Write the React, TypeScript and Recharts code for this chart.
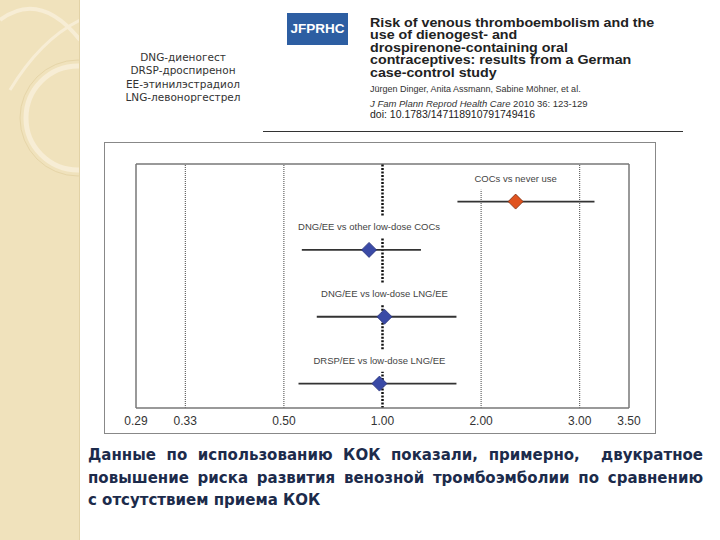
import {
  ComposedChart,
  Scatter,
  ErrorBar,
  XAxis,
  YAxis,
  ReferenceLine,
} from 'recharts';

// forest plot rows (odds ratios with 95% CI)
const comparisons = [
  'COCs vs never use',
  'DNG/EE vs other low-dose COCs',
  'DNG/EE vs low-dose LNG/EE',
  'DRSP/EE vs low-dose LNG/EE',
];
const oddsRatios = [2.35, 0.88, 1.02, 0.97];
const ciLower = [1.76, 0.55, 0.6, 0.54];
const ciUpper = [3.15, 1.39, 1.75, 1.75];
const markerColors = ['#E0531F', '#3A4AA6', '#3A4AA6', '#3A4AA6'];

const tickRatios = [1 / 3.5, 1 / 3, 0.5, 1, 2, 3, 3.5];
const guideRatios = [1 / 3, 0.5, 1, 2, 3];

const abbreviations = [
  'DNG-диеногест',
  'DRSP-дроспиренон',
  'EE-этинилэстрадиол',
  'LNG-левоноргестрел',
];
const titleLines = [
  'Risk of venous thromboembolism and the',
  'use of dienogest- and',
  'drospirenone-containing oral',
  'contraceptives: results from a German',
  'case-control study',
];
const conclusionLines = [
  'Данные по использованию КОК показали, примерно,  двукратное',
  'повышение риска развития венозной тромбоэмболии по сравнению',
  'с отсутствием приема КОК',
];

// layout of the rows on the hidden y axis (0..10)
const Y_MAX = 10;
const rowY = [8.46, 6.48, 3.74, 1.0];
const LABEL_UP = 0.945;
const UNIT_PX = 98.7; // px per x-axis unit
const Y_PX = 24.34; // px per y unit

// ratio scale: 1/3, 1/2, 1, 2, 3 equally spaced
const toAxis = (r: number) => (r >= 1 ? r - 1 : 1 - 1 / r);

const data = comparisons.map((name, i) => {
  const x = toAxis(oddsRatios[i]);
  return {
    name,
    x,
    y: rowY[i],
    err: [x - toAxis(ciLower[i]), toAxis(ciUpper[i]) - x],
    color: markerColors[i],
  };
});

// vertical guide lines, broken where a row label crosses them
function guideSegments(ratio: number) {
  const gx = toAxis(ratio);
  const breaks: [number, number][] = [];
  data.forEach((d) => {
    const half = (d.name.length * 2.2) / UNIT_PX;
    if (Math.abs(gx - d.x) < half) {
      const ly = d.y + LABEL_UP;
      breaks.push([ly - 0.46, ly + 0.46]);
    }
  });
  breaks.sort((a, b) => a[0] - b[0]);
  const segs: [number, number][] = [];
  let start = 0;
  breaks.forEach(([b0, b1]) => {
    if (b0 - start > 0.4) segs.push([start, b0]);
    start = b1;
  });
  if (Y_MAX - start > 0.4) segs.push([start, Y_MAX]);
  return segs.map((s) => ({ x: gx, y0: s[0], y1: s[1], ratio }));
}

const guides = guideRatios.flatMap(guideSegments);

function Diamond(props: any) {
  const { cx, cy, payload } = props;
  const h = 7.5;
  return (
    <g>
      <polygon
        points={`${cx},${cy - h} ${cx + h},${cy} ${cx},${cy + h} ${cx - h},${cy}`}
        fill={payload.color}
        stroke={payload.color === '#E0531F' ? '#7a2d12' : '#27317a'}
        strokeWidth={0.8}
      />
      <text
        x={cx}
        y={cy - LABEL_UP * Y_PX}
        textAnchor="middle"
        dominantBaseline="central"
        fontSize={9.5}
        fontFamily="Liberation Sans, Arial, sans-serif"
        fill="#444"
      >
        {payload.name}
      </text>
    </g>
  );
}

function ForestPlot() {
  return (
    <ComposedChart
      width={552}
      height={292}
      data={data}
      margin={{ top: 22, right: 27, left: 32, bottom: 0 }}
    >
      <XAxis
        type="number"
        dataKey="x"
        domain={[-2.5, 2.5]}
        ticks={tickRatios.map(toAxis)}
        tickFormatter={(v: number) => {
          const i = tickRatios.findIndex((r) => Math.abs(toAxis(r) - v) < 1e-6);
          return i >= 0 ? tickRatios[i].toFixed(2) : '';
        }}
        height={26}
        tickLine={false}
        tickSize={6}
        tickMargin={2}
        axisLine={{ stroke: '#777', strokeWidth: 1.5 }}
        tick={{ fill: '#333', fontSize: 12, fontFamily: 'Liberation Sans, Arial, sans-serif' }}
        allowDataOverflow
      />
      <YAxis type="number" dataKey="y" domain={[0, Y_MAX]} hide allowDataOverflow />

      <ReferenceLine x={-2.5} stroke="#777" strokeWidth={1.5} />
      <ReferenceLine x={2.5} stroke="#777" strokeWidth={1.5} />
      <ReferenceLine y={Y_MAX} stroke="#777" strokeWidth={1.5} />

      {guides.map((g, i) => (
        <ReferenceLine
          key={i}
          segment={[
            { x: g.x, y: g.y0 },
            { x: g.x, y: g.y1 },
          ]}
          stroke={g.ratio === 1 ? '#111' : '#444'}
          strokeWidth={g.ratio === 1 ? 2.5 : 1}
          strokeDasharray={g.ratio === 1 ? '2 1.5' : '1 1'}
        />
      ))}

      <Scatter data={data} dataKey="y" shape={<Diamond />} isAnimationActive={false}>
        <ErrorBar dataKey="err" direction="x" width={0} stroke="#333" strokeWidth={1.8} />
      </Scatter>
    </ComposedChart>
  );
}

export default function App() {
  return (
    <div
      style={{
        position: 'absolute',
        left: 0,
        top: 0,
        width: 720,
        height: 540,
        overflow: 'hidden',
        background: '#fff',
        fontFamily: 'Liberation Sans, Arial, sans-serif',
      }}
    >
      {/* decorative strip */}
      <svg width={80} height={540} style={{ position: 'absolute', left: 0, top: 0 }}>
        <rect x={0} y={0} width={80} height={540} fill="#F0E2BC" />
        <circle cx={78} cy={118} r={52} fill="none" stroke="#F7EDD5" strokeWidth={5} />
        <circle cx={78} cy={118} r={58} fill="none" stroke="#E6D5A8" strokeWidth={1} />
        <path d="M 0 20 Q 40 -10 80 40" fill="none" stroke="#F7EDD5" strokeWidth={4} />
        <path d="M 10 90 Q 40 40 80 20" fill="none" stroke="#F7EDD5" strokeWidth={3} />
        <line x1={79.5} y1={0} x2={79.5} y2={540} stroke="#E2D2A6" strokeWidth={1} />
      </svg>

      {/* abbreviations */}
      <div
        style={{
          position: 'absolute',
          left: 123,
          top: 51,
          width: 120,
          textAlign: 'center',
          fontFamily: 'DejaVu Sans, sans-serif',
          fontSize: 10.5,
          lineHeight: '13.3px',
          color: '#333',
        }}
      >
        {abbreviations.map((t) => (
          <div key={t}>{t}</div>
        ))}
      </div>

      {/* journal logo */}
      <div
        style={{
          position: 'absolute',
          left: 287,
          top: 13,
          width: 61,
          height: 32,
          background: '#2D5EA2',
          color: '#fff',
          fontWeight: 'bold',
          fontSize: 13.5,
          lineHeight: '32px',
          textAlign: 'center',
        }}
      >
        JFPRHC
      </div>

      {/* article header */}
      <div style={{ position: 'absolute', left: 370, top: 16.5, color: '#222' }}>
        {titleLines.map((t) => (
          <div
            key={t}
            style={{
              fontWeight: 'bold',
              fontSize: 12.4,
              lineHeight: '12.5px',
              whiteSpace: 'nowrap',
              transform: 'scaleX(1.15)',
              transformOrigin: 'left center',
            }}
          >
            {t}
          </div>
        ))}
        <div style={{ fontSize: 9, lineHeight: '10.4px', marginTop: 5.2, whiteSpace: 'nowrap', color: '#333' }}>
          Jürgen Dinger, Anita Assmann, Sabine Möhner, et al.
        </div>
        <div style={{ fontSize: 9.5, lineHeight: '9.5px', marginTop: 4.6, whiteSpace: 'nowrap', color: '#333' }}>
          <i>J Fam Plann Reprod Health Care</i> 2010 36: 123-129
        </div>
        <div style={{ fontSize: 10.5, lineHeight: '10.5px', whiteSpace: 'nowrap', color: '#222' }}>
          doi: 10.1783/147118910791749416
        </div>
      </div>
      <div
        style={{
          position: 'absolute',
          left: 263,
          top: 131,
          width: 420,
          height: 0,
          borderTop: '1.5px solid #333',
        }}
      />

      {/* figure */}
      <div
        style={{
          position: 'absolute',
          left: 104,
          top: 142,
          width: 552,
          height: 292,
          border: '1.5px solid #888',
          boxSizing: 'border-box',
        }}
      />
      <div style={{ position: 'absolute', left: 104, top: 142 }}>
        <ForestPlot />
      </div>

      {/* conclusion */}
      <div
        style={{
          position: 'absolute',
          left: 88,
          top: 444,
          width: 615,
          fontFamily: 'DejaVu Sans, sans-serif',
          fontWeight: 'bold',
          fontSize: 15,
          lineHeight: '22.5px',
          color: '#1C2B4B',
        }}
      >
        {conclusionLines.map((t, i) => (
          <div
            key={i}
            style={{
              whiteSpace: 'pre',
              textAlign: 'justify',
              textAlignLast: i < conclusionLines.length - 1 ? 'justify' : 'left',
            }}
          >
            {t}
          </div>
        ))}
      </div>
    </div>
  );
}
